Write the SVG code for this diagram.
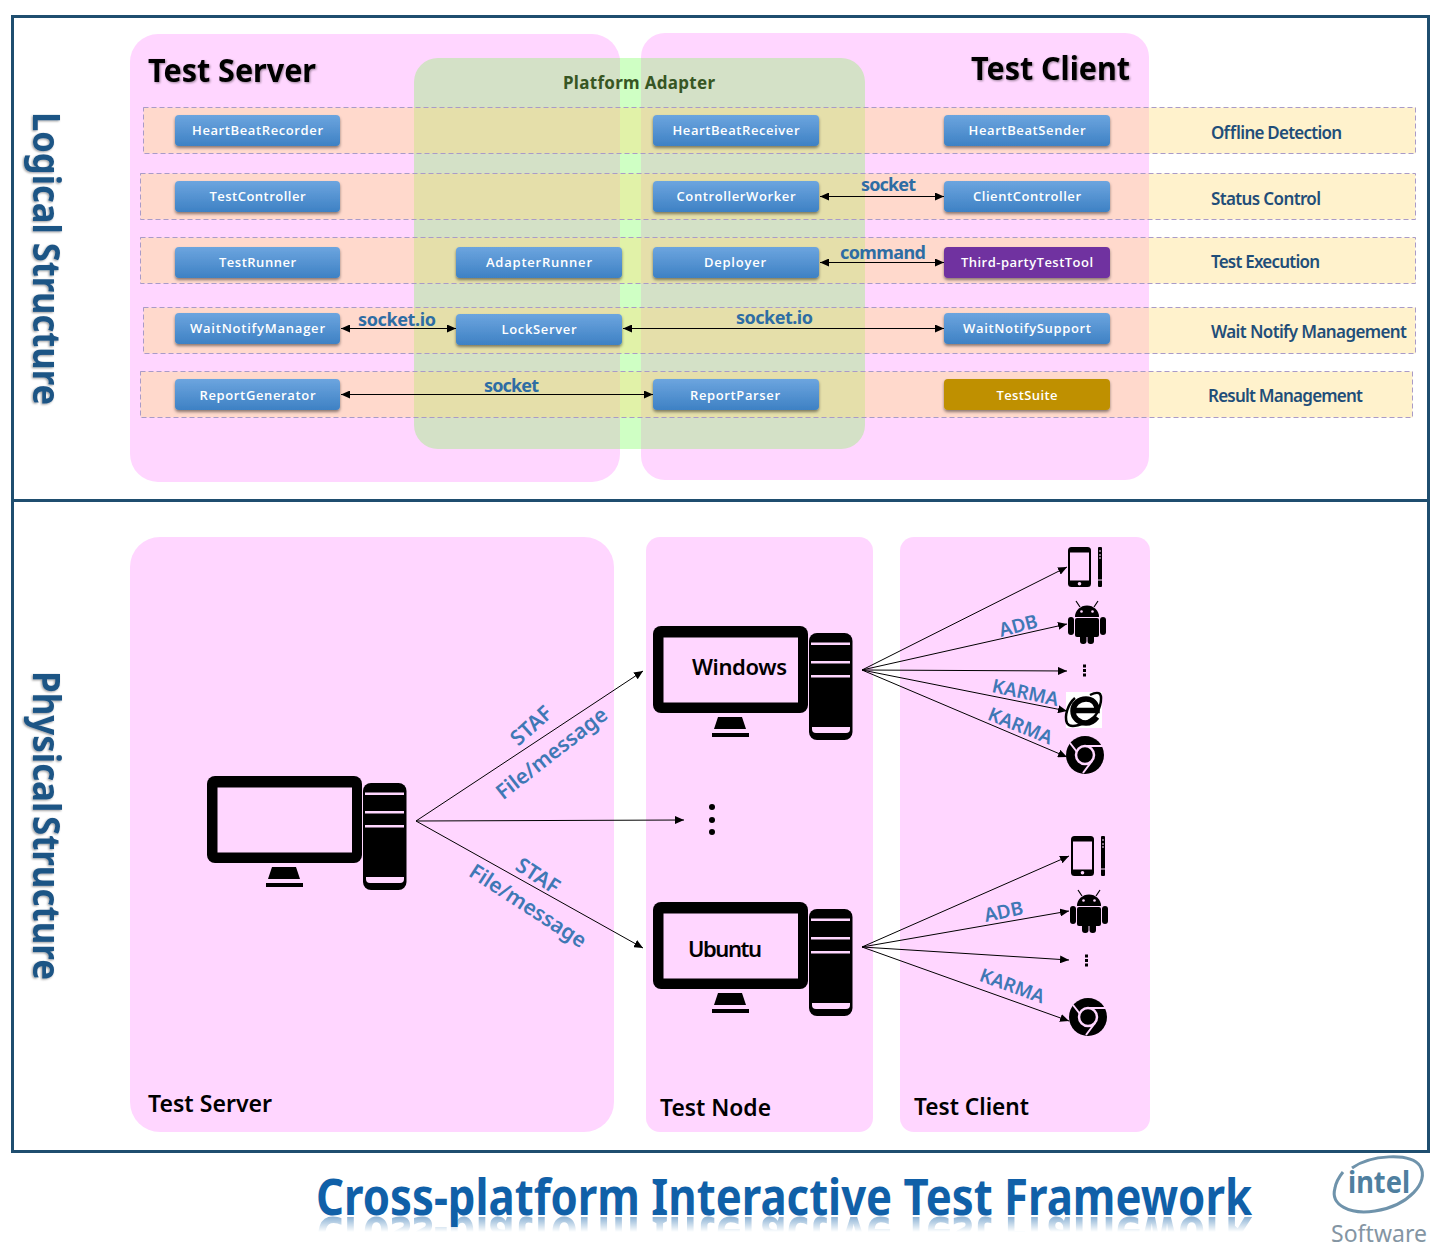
<svg xmlns="http://www.w3.org/2000/svg" xmlns:xlink="http://www.w3.org/1999/xlink" width="1440" height="1248" viewBox="0 0 1440 1248">
<style>
text{font-family:"Noto Sans","Open Sans","Liberation Sans",sans-serif}
.panel{fill:#FFD6FF}
.band{fill:#FFDE7C;fill-opacity:.39;stroke:#A99BC8;stroke-width:1;stroke-dasharray:5 3}
.btn{fill:url(#btnGrad);filter:url(#sh)}
.btnT{fill:#fff;font-size:13px;font-weight:600;text-anchor:middle;font-family:"Open Sans","Noto Sans",sans-serif}
.row{fill:#1F4E79;font-size:17px;font-weight:600}
.clab{fill:#2E6DA4;font-size:18px;font-weight:700}
.plab{fill:#3F78B5;font-size:21px;font-weight:600;text-anchor:middle}
.slab{font-size:19px}
.head{fill:#000;font-size:33px;font-weight:700;filter:url(#blur)}
.sub{fill:#000;font-size:24px;font-weight:600}
.side{fill:#1F5485;font-size:38px;font-weight:700;filter:url(#blur)}
.c{fill:none;stroke:#000;stroke-width:1;marker-end:url(#arr)}
.d{marker-start:url(#arr)}
</style>
<defs>
<linearGradient id="btnGrad" x1="0" y1="0" x2="0" y2="1"><stop offset="0" stop-color="#6CA5DF"/><stop offset="1" stop-color="#3E81C4"/></linearGradient>
<linearGradient id="fade" gradientUnits="userSpaceOnUse" x1="0" y1="1216" x2="0" y2="1232"><stop offset="0" stop-color="#fff" stop-opacity=".5"/><stop offset="1" stop-color="#fff" stop-opacity="0"/></linearGradient>
<mask id="rm" maskUnits="userSpaceOnUse" x="300" y="1200" width="980" height="48"><rect x="300" y="1200" width="980" height="48" fill="url(#fade)"/></mask>
<filter id="sh" x="-5%" y="-20%" width="110%" height="150%"><feDropShadow dx="0" dy="2" stdDeviation="1.5" flood-color="#000" flood-opacity=".45"/></filter>
<filter id="blur" x="-5%" y="-20%" width="110%" height="140%"><feDropShadow dx="1" dy="1" stdDeviation="1" flood-color="#000" flood-opacity=".4"/></filter>
<marker id="arr" markerUnits="userSpaceOnUse" markerWidth="10" markerHeight="8" refX="9" refY="4" orient="auto-start-reverse"><path d="M0,0L9,4L0,8z" fill="#000"/></marker>
<symbol id="pc" overflow="visible">
<rect x="0" y="0" width="155" height="87" rx="8" fill="#000"/>
<rect x="10.500" y="11.500" width="134.500" height="65" fill="#FFD6FF"/>
<path d="M65,91H89L93,103H61z" fill="#000"/>
<rect x="59" y="107" width="37" height="4" fill="#000"/>
<rect x="156" y="7" width="43.500" height="107" rx="8" fill="#000"/>
<path d="M158,16.500H197V19H158zM158,35H197V37.500H158zM158,49H197V51.500H158z" fill="#FFD6FF"/>
<path d="M159,101H197V103Q197,107 193,107H163Q159,107 159,103z" fill="#FFD6FF"/>
</symbol>
<symbol id="phone" overflow="visible">
<rect x="0" y="0" width="23" height="40" rx="3.500" fill="#000"/>
<rect x="2" y="5.500" width="19" height="28" fill="#FFD6FF"/>
<circle cx="11.500" cy="36.800" r="1.800" fill="#FFD6FF"/>
<rect x="30" y="0" width="4" height="40" rx="1" fill="#000"/>
<path d="M31,4h2M31,8h2M31,11h2M30,33h4" stroke="#FFD6FF" stroke-width="1"/>
</symbol>
<symbol id="droid" overflow="visible">
<path d="M8,0L12,6M30,0L26,6" stroke="#000" stroke-width="1.200"/>
<path d="M7,16a12,11.500 0 0 1 24,0z" fill="#000"/>
<circle cx="13.500" cy="10.500" r="1.300" fill="#FFD6FF"/><circle cx="24.500" cy="10.500" r="1.300" fill="#FFD6FF"/>
<rect x="7" y="17" width="24" height="19" rx="2" fill="#000"/>
<rect x="0" y="16" width="6" height="18" rx="3" fill="#000"/><rect x="32" y="16" width="6" height="18" rx="3" fill="#000"/>
<rect x="12" y="32" width="6.500" height="11" rx="3" fill="#000"/><rect x="19.500" y="32" width="6.500" height="11" rx="3" fill="#000"/>
</symbol>
<symbol id="chrome" overflow="visible">
<circle cx="0" cy="0" r="19" fill="#000"/>
<circle cx="0" cy="0" r="9" fill="#000" stroke="#FFD6FF" stroke-width="2.500"/>
<path d="M1,-9H18M-8,-3L-15,-12M7,6L-2,18" stroke="#FFD6FF" stroke-width="2" fill="none"/>
</symbol>
</defs>

<rect width="1440" height="1248" fill="#fff"/>

<g id="panels-logical">
<rect class="panel" x="130" y="34" width="490" height="448" rx="28"/>
<rect class="panel" x="641" y="33" width="508" height="447" rx="24"/>
<rect x="414" y="58" width="451" height="391" rx="24" fill="#D4E1C7"/>
<rect x="620" y="58" width="21" height="391" fill="#CFFFC4"/>
</g>

<g id="bands">
<rect class="band" x="143.500" y="107.500" width="1272" height="46"/>
<rect class="band" x="140.500" y="173.500" width="1275" height="46"/>
<rect class="band" x="140.500" y="237.500" width="1275" height="46"/>
<rect class="band" x="143.500" y="307.500" width="1272" height="46"/>
<rect class="band" x="140.500" y="371.500" width="1272" height="46"/>
</g>

<g id="frame" fill="none" stroke="#1F4E6F" stroke-width="3">
<rect x="12.500" y="16.500" width="1416" height="1135"/>
<path d="M12,500.500H1428"/>
</g>

<g id="logical-titles">
<text class="head" x="148" y="82" textLength="168" lengthAdjust="spacingAndGlyphs">Test Server</text>
<text class="head" x="971" y="80" textLength="159" lengthAdjust="spacingAndGlyphs">Test Client</text>
<text x="563" y="89" textLength="152" font-size="17" font-weight="700" fill="#375623">Platform Adapter</text>
<text class="side" transform="translate(33,112) rotate(90)" textLength="293" lengthAdjust="spacingAndGlyphs">Logical Structure</text>
<text class="side" transform="translate(33,671) rotate(90)" textLength="309" lengthAdjust="spacingAndGlyphs" word-spacing="-6">Physical Structure</text>
</g>

<g id="n-HeartBeatRecorder"><rect class="btn" x="175" y="115" width="165" height="31" rx="4"/><text class="btnT" x="257.500" y="135" textLength="131">HeartBeatRecorder</text></g>
<g id="n-TestController"><rect class="btn" x="175" y="181" width="165" height="31" rx="4"/><text class="btnT" x="257.500" y="201" textLength="96">TestController</text></g>
<g id="n-TestRunner"><rect class="btn" x="175" y="247" width="165" height="31" rx="4"/><text class="btnT" x="257.500" y="267" textLength="77">TestRunner</text></g>
<g id="n-WaitNotifyManager"><rect class="btn" x="175" y="313" width="165" height="31" rx="4"/><text class="btnT" x="257.500" y="333" textLength="135">WaitNotifyManager</text></g>
<g id="n-ReportGenerator"><rect class="btn" x="175" y="379" width="165" height="31" rx="4"/><text class="btnT" x="257.500" y="400" textLength="116">ReportGenerator</text></g>
<g id="n-AdapterRunner"><rect class="btn" x="456" y="247" width="166" height="31" rx="4"/><text class="btnT" x="539" y="267" textLength="106">AdapterRunner</text></g>
<g id="n-LockServer"><rect class="btn" x="456" y="314" width="166" height="31" rx="4"/><text class="btnT" x="539" y="334" textLength="75">LockServer</text></g>
<g id="n-HeartBeatReceiver"><rect class="btn" x="653" y="115" width="166" height="31" rx="4"/><text class="btnT" x="736" y="135" textLength="127">HeartBeatReceiver</text></g>
<g id="n-ControllerWorker"><rect class="btn" x="653" y="181" width="166" height="31" rx="4"/><text class="btnT" x="736" y="201" textLength="119">ControllerWorker</text></g>
<g id="n-Deployer"><rect class="btn" x="653" y="247" width="166" height="31" rx="4"/><text class="btnT" x="735" y="267" textLength="62">Deployer</text></g>
<g id="n-ReportParser"><rect class="btn" x="653" y="379" width="166" height="31" rx="4"/><text class="btnT" x="735" y="400" textLength="90">ReportParser</text></g>
<g id="n-HeartBeatSender"><rect class="btn" x="944" y="115" width="166" height="31" rx="4"/><text class="btnT" x="1027" y="135" textLength="117">HeartBeatSender</text></g>
<g id="n-ClientController"><rect class="btn" x="944" y="181" width="166" height="31" rx="4"/><text class="btnT" x="1027" y="201" textLength="108">ClientController</text></g>
<g id="n-ThirdParty"><rect class="btn" style="fill:#7030A0" x="944" y="247" width="166" height="31" rx="4"/><text class="btnT" x="1027" y="267" textLength="132">Third-partyTestTool</text></g>
<g id="n-WaitNotifySupport"><rect class="btn" x="944" y="313" width="166" height="31" rx="4"/><text class="btnT" x="1027" y="333" textLength="128">WaitNotifySupport</text></g>
<g id="n-TestSuite"><rect class="btn" style="fill:#BF9000" x="944" y="379" width="166" height="31" rx="4"/><text class="btnT" x="1027" y="400" textLength="61">TestSuite</text></g>

<g id="row-labels">
<text class="row" x="1211" y="139" textLength="131">Offline Detection</text>
<text class="row" x="1211" y="205" textLength="110">Status Control</text>
<text class="row" x="1211" y="268" textLength="109">Test Execution</text>
<text class="row" x="1211" y="338" textLength="196">Wait Notify Management</text>
<text class="row" x="1208" y="402" textLength="155">Result Management</text>
</g>

<g id="panels-physical">
<rect class="panel" x="130" y="537" width="484" height="595" rx="30"/>
<rect class="panel" x="646" y="537" width="227" height="595" rx="14"/>
<rect class="panel" x="900" y="537" width="250" height="595" rx="14"/>
<text class="sub" x="148" y="1112" textLength="124" lengthAdjust="spacingAndGlyphs">Test Server</text>
<text class="sub" x="660" y="1116" textLength="111" lengthAdjust="spacingAndGlyphs">Test Node</text>
<text class="sub" x="914" y="1115" textLength="115" lengthAdjust="spacingAndGlyphs">Test Client</text>
</g>

<g id="n-server-pc"><use href="#pc" x="207" y="776"/></g>
<g id="n-windows-pc"><use href="#pc" x="653" y="626"/><text x="692" y="675" textLength="95" font-size="22" font-weight="600" fill="#000">Windows</text></g>
<g id="n-ubuntu-pc"><use href="#pc" x="653" y="902"/><text x="688" y="957" textLength="74" font-size="22" font-weight="600" fill="#000">Ubuntu</text></g>
<g id="n-node-dots" fill="#000"><circle cx="712" cy="807" r="3"/><circle cx="712" cy="820" r="3"/><circle cx="712" cy="832" r="3"/></g>

<g id="n-win-phone"><use href="#phone" x="1068" y="547"/></g>
<g id="n-win-android"><use href="#droid" x="1068" y="601"/></g>
<g id="n-win-dots" fill="#000"><rect x="1083" y="664.500" width="3" height="3"/><rect x="1083" y="669" width="3" height="3"/><rect x="1083" y="673.500" width="3" height="3"/></g>
<g id="n-win-ie"><rect x="1066" y="692" width="36" height="36" fill="#fff"/>
<path d="M1075,710.500H1097C1097,703 1092,699 1086,699C1079,699 1073,704 1073,711C1073,718 1079,723 1086,723C1091,723 1094,721 1097,717" fill="none" stroke="#000" stroke-width="5.500"/>
<path d="M1075,698C1068,704 1064,716 1067,723C1070,729 1084,725 1094,717C1099,712 1103,699 1100,694C1098,692 1094,693 1090,695" fill="none" stroke="#000" stroke-width="2.500"/></g>
<g id="n-win-chrome"><use href="#chrome" x="1085" y="755"/></g>
<g id="n-ubu-phone"><use href="#phone" x="1071" y="836"/></g>
<g id="n-ubu-android"><use href="#droid" x="1070" y="890"/></g>
<g id="n-ubu-dots" fill="#000"><rect x="1085" y="954.500" width="3" height="3"/><rect x="1085" y="959" width="3" height="3"/><rect x="1085" y="963.500" width="3" height="3"/></g>
<g id="n-ubu-chrome"><use href="#chrome" x="1088" y="1017"/></g>

<g id="connectors">
<path class="c d" d="M820,196.500H944"/>
<path class="c d" d="M820,262.500H944"/>
<path class="c d" d="M341,328.500H456"/>
<path class="c d" d="M623,328.500H944"/>
<path class="c d" d="M341,394.500H653"/>
<path class="c" d="M416,821L643,671"/>
<path class="c" d="M416,821L684,820"/>
<path class="c" d="M416,821L643,948"/>
<path class="c" d="M862,670L1067,567"/>
<path class="c" d="M862,670L1067,624"/>
<path class="c" d="M862,670L1067,671"/>
<path class="c" d="M862,670L1067,711"/>
<path class="c" d="M862,670L1067,757"/>
<path class="c" d="M862,947L1069,856"/>
<path class="c" d="M862,947L1069,911"/>
<path class="c" d="M862,947L1069,960"/>
<path class="c" d="M862,947L1069,1021"/>
</g>

<g id="connector-labels">
<text class="clab" x="861" y="191" textLength="55">socket</text>
<text class="clab" x="840" y="259" textLength="86">command</text>
<text class="clab" x="358" y="326" textLength="78">socket.io</text>
<text class="clab" x="736" y="324" textLength="77">socket.io</text>
<text class="clab" x="484" y="392" textLength="55">socket</text>
<text class="plab" transform="translate(536,731) rotate(-42)">STAF</text>
<text class="plab" transform="translate(556,759) rotate(-38)">File/message</text>
<text class="plab" transform="translate(534,882) rotate(33)">STAF</text>
<text class="plab" transform="translate(524,912) rotate(33)">File/message</text>
<text class="plab slab" transform="translate(1020,632) rotate(-15)">ADB</text>
<text class="plab slab" transform="translate(1024,699) rotate(12)">KARMA</text>
<text class="plab slab" transform="translate(1018,732) rotate(22)">KARMA</text>
<text class="plab slab" transform="translate(1005,918) rotate(-12)">ADB</text>
<text class="plab slab" transform="translate(1010,992) rotate(20)">KARMA</text>
</g>

<g id="title">
<text id="titleT" x="316" y="1215" textLength="936" lengthAdjust="spacingAndGlyphs" font-size="50" font-weight="700" fill="#1060A8">Cross-platform Interactive Test Framework</text>
<g mask="url(#rm)"><use href="#titleT" transform="matrix(1 0 0 -1 0 2432)"/></g>
</g>

<g id="logo">
<path d="M1352,1168C1370,1155 1410,1152 1420,1166C1430,1182 1408,1206 1375,1211C1350,1215 1330,1205 1335,1188C1336,1182 1339,1177 1343,1172" fill="none" stroke="#6F93AB" stroke-width="3"/>
<text x="1348" y="1193" textLength="62" lengthAdjust="spacingAndGlyphs" font-size="30" font-weight="700" fill="#4F7F9F">intel</text>
<text x="1331" y="1242" textLength="96" font-size="23" fill="#8495A3">Software</text>
</g>
</svg>
